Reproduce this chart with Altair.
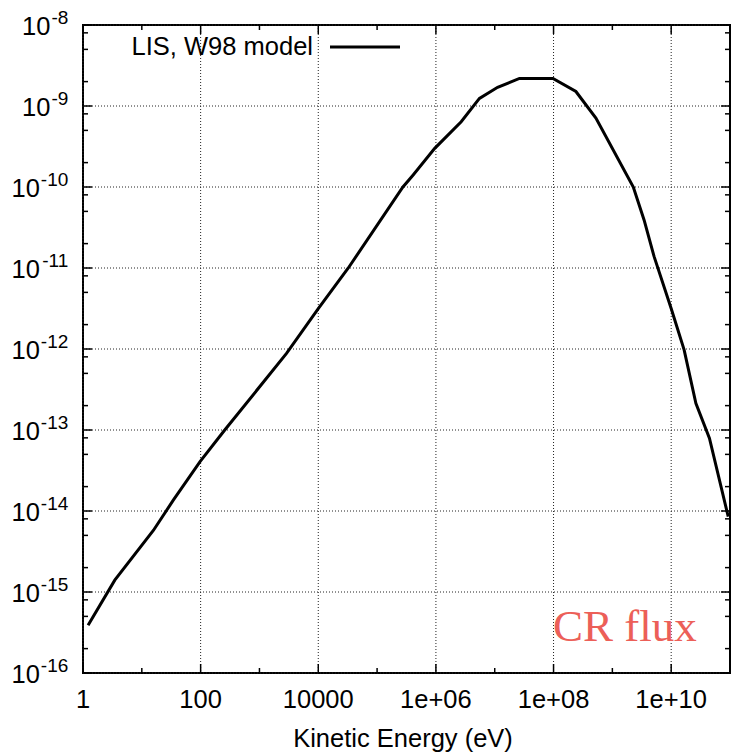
import altair as alt
import pandas as pd

# ---------------- data ----------------
energy_eV = [1.22, 3.47, 15.7, 34.3, 97.7, 257, 2884, 1.0e4, 3.24e4, 2.75e5, 4.07e5,
             9.55e5, 2.69e6, 5.50e6, 1.12e7, 2.63e7, 9.77e7, 2.40e8, 5.25e8, 2.27e9,
             3.47e9, 5.13e9, 1.0e10, 1.66e10, 2.63e10, 4.47e10, 9.33e10]
flux = [3.89e-16, 1.40e-15, 5.75e-15, 1.36e-14, 4.07e-14, 1.0e-13, 8.81e-13, 3.16e-12,
        1.0e-11, 1.0e-10, 1.40e-10, 3.0e-10, 6.40e-10, 1.24e-9, 1.70e-9, 2.19e-9,
        2.19e-9, 1.51e-9, 7.08e-10, 1.0e-10, 3.89e-11, 1.38e-11, 3.16e-12, 9.77e-13,
        2.14e-13, 7.94e-14, 8.51e-15]

x_major = [1, 1e2, 1e4, 1e6, 1e8, 1e10]
x_major_labels = ["1", "100", "10000", "1e+06", "1e+08", "1e+10"]
x_minor = [1e1, 1e3, 1e5, 1e7, 1e9]

y_major = [1e-8, 1e-9, 1e-10, 1e-11, 1e-12, 1e-13, 1e-14, 1e-15, 1e-16]
y_exponents = ["-8", "-9", "-10", "-11", "-12", "-13", "-14", "-15", "-16"]
y_minor = [m * d for d in [1e-9, 1e-10, 1e-11, 1e-12, 1e-13, 1e-14, 1e-15, 1e-16] for m in (2, 5, 8)]

legend_label = ["LIS, W98 model"]
annotation = ["CR flux"]
x_title = ["Kinetic Energy (eV)"]

# ---------------- layout ----------------
W, H = 647, 648
FONT = "Liberation Sans"
FS = 25.5
EXPFS = 19

xs = alt.Scale(type="log", domain=[1, 1e11], nice=False)
ys = alt.Scale(type="log", domain=[1e-16, 1e-8], nice=False)

df = pd.DataFrame({"E": energy_eV, "F": flux})
xmaj = pd.DataFrame({"v": x_major, "lab": x_major_labels})
xmin = pd.DataFrame({"v": x_minor})
ymaj = pd.DataFrame({"v": y_major, "exp": y_exponents})
ymin = pd.DataFrame({"v": y_minor})

X = lambda f: alt.X(f, scale=xs, axis=None)
Y = lambda f: alt.Y(f, scale=ys, axis=None)

# grid lines
xgrid = alt.Chart(xmaj).mark_rule(color="#222", strokeWidth=1, strokeDash=[1, 2]).encode(
    x=X("v:Q"), y=alt.value(0), y2=alt.value(H))
ygrid = alt.Chart(ymaj).mark_rule(color="#222", strokeWidth=1, strokeDash=[1, 2]).encode(
    y=Y("v:Q"), x=alt.value(0), x2=alt.value(W))

line = alt.Chart(df).mark_line(color="black", strokeWidth=3, clip=True).encode(
    x=X("E:Q"), y=Y("F:Q"), order=alt.Order("E:Q"))


def xticks(d, length):
    bottom = alt.Chart(d).mark_rule(color="black", strokeWidth=1.5).encode(
        x=X("v:Q"), y=alt.value(H), y2=alt.value(H - length))
    top = alt.Chart(d).mark_rule(color="black", strokeWidth=1.5).encode(
        x=X("v:Q"), y=alt.value(0), y2=alt.value(length))
    return [bottom, top]


def yticks(d, length):
    left = alt.Chart(d).mark_rule(color="black", strokeWidth=1.5).encode(
        y=Y("v:Q"), x=alt.value(0), x2=alt.value(length))
    right = alt.Chart(d).mark_rule(color="black", strokeWidth=1.5).encode(
        y=Y("v:Q"), x=alt.value(W - length), x2=alt.value(W))
    return [left, right]


# x tick labels and title
xlab = alt.Chart(xmaj).mark_text(align="center", baseline="alphabetic", font=FONT,
                                 fontSize=FS, color="black").encode(
    x=X("v:Q"), y=alt.value(H + 35), text="lab:N")
xtitle = alt.Chart(pd.DataFrame({"t": x_title})).mark_text(
    align="center", baseline="alphabetic", font=FONT, fontSize=FS, color="black").encode(
    x=alt.value(320), y=alt.value(H + 74), text="t:N")

# y tick labels: "10" with superscript exponent
ten = alt.Chart(ymaj).transform_calculate(
    lx=f"-14.7 - (0.333 + 0.556*(length(datum.exp)-1))*{EXPFS} - 1",
    base="'10'",
).mark_text(align="right", baseline="middle", font=FONT, fontSize=FS,
            color="black", dy=2).encode(
    x=alt.X("lx:Q", scale=None, axis=None), y=Y("v:Q"), text="base:N")
expo = alt.Chart(ymaj).mark_text(align="right", baseline="middle", font=FONT,
                                 fontSize=EXPFS, color="black", dy=-7).encode(
    x=alt.value(-14.7), y=Y("v:Q"), text="exp:N")

leg_df = pd.DataFrame({"t": legend_label})
leg_text = alt.Chart(leg_df).mark_text(align="right", baseline="middle", font=FONT,
                                       fontSize=FS, color="black").encode(
    x=alt.value(230), y=alt.value(22), text="t:N")
leg_line = alt.Chart(leg_df).mark_rule(color="black", strokeWidth=3).encode(
    x=alt.value(247), x2=alt.value(317), y=alt.value(22))

ann = alt.Chart(pd.DataFrame({"t": annotation})).mark_text(
    align="left", baseline="alphabetic", font="Liberation Serif", fontSize=45,
    color="#ec5f58").encode(x=alt.value(470), y=alt.value(616), text="t:N")

layers = [xgrid, ygrid, line] + xticks(xmaj, 9) + xticks(xmin, 5) + yticks(ymaj, 9) \
    + yticks(ymin, 5) + [xlab, xtitle, ten, expo, leg_text, leg_line, ann]

chart = alt.layer(*layers).properties(
    width=W, height=H,
    autosize=alt.AutoSizeParams(type="none"),
    padding={"left": 83, "top": 25, "right": 1, "bottom": 79},
    background="white",
).configure_view(stroke="black", strokeWidth=2)

chart.save("out.html", embed_options={"renderer": "svg", "actions": False})
